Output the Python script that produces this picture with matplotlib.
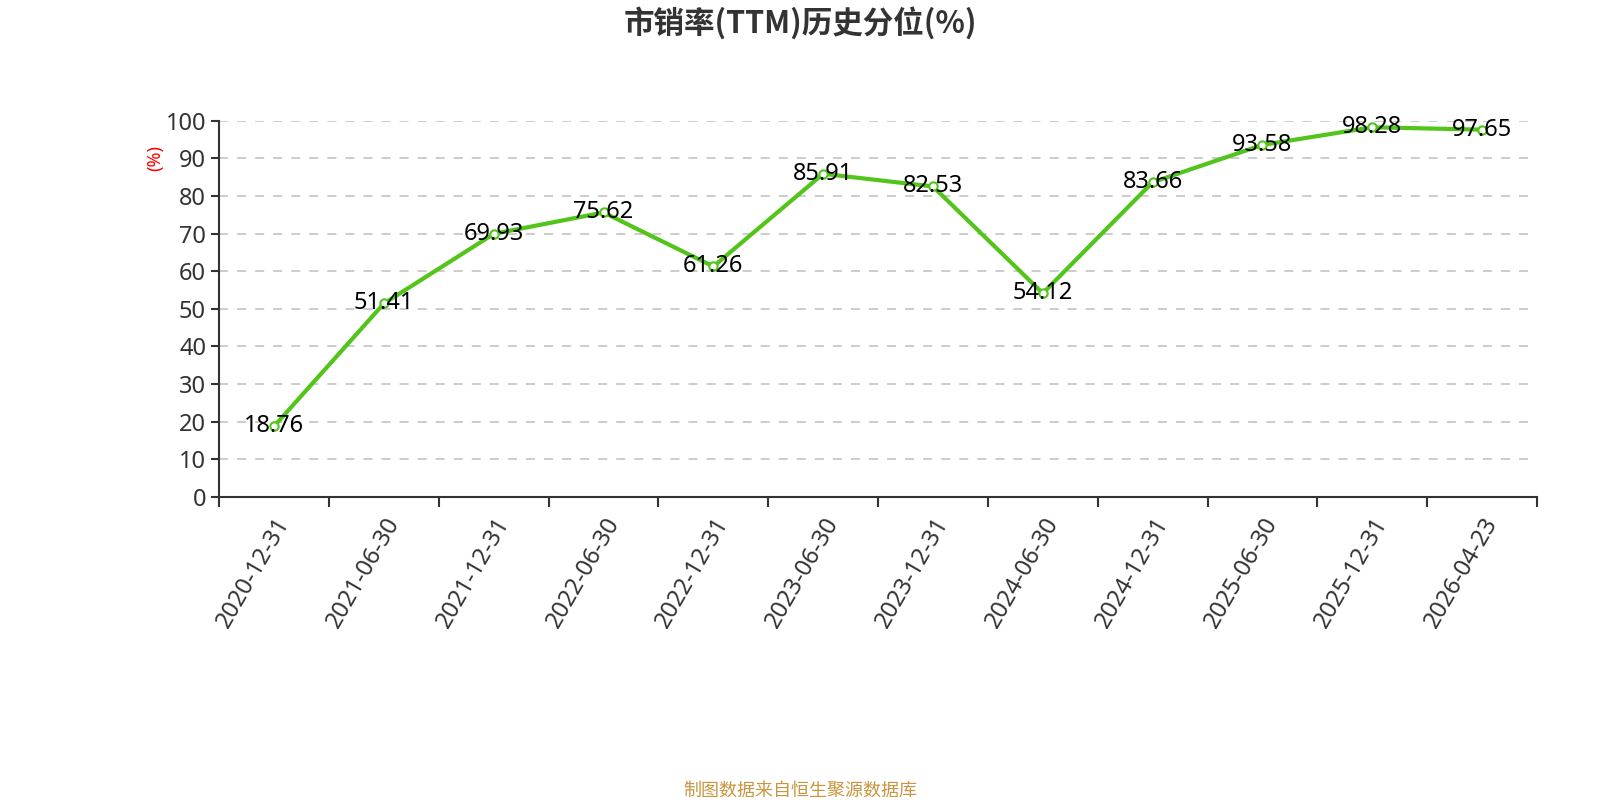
import matplotlib
matplotlib.use("Agg")
import matplotlib.pyplot as plt
import numpy as np

plt.rcParams["font.family"] = ["Noto Sans", "Noto Sans CJK SC", "DejaVu Sans"]

# 数据
dates = ["2020-12-31", "2021-06-30", "2021-12-31", "2022-06-30",
         "2022-12-31", "2023-06-30", "2023-12-31", "2024-06-30",
         "2024-12-31", "2025-06-30", "2025-12-31", "2026-04-23"]
values = [18.76, 51.41, 69.93, 75.62, 61.26, 85.91,
          82.53, 54.12, 83.66, 93.58, 98.28, 97.65]
y_ticks = [0, 10, 20, 30, 40, 50, 60, 70, 80, 90, 100]


def main():
    fig = plt.figure(figsize=(16, 8), dpi=100)
    ax = fig.add_axes([0.137, 0.379, 0.8236, 0.470])

    x = np.arange(len(dates))
    ax.plot(x, values, color="#52C41A", linewidth=3, marker="o",
            markersize=6, markerfacecolor="white", markeredgecolor="#52C41A",
            markeredgewidth=1.5, zorder=3)

    # подписи значений
    for xi, v in zip(x, values):
        ax.text(xi, v, f"{v:.2f}", ha="center", va="center",
                fontsize=17, color="black", zorder=4)

    ax.set_xlim(-0.5, len(dates) - 0.5)
    ax.set_ylim(0, 100)
    ax.set_yticks(y_ticks)
    ax.yaxis.grid(True, linestyle=(0, (5, 5)), color="#c8c8c8", linewidth=1.3)
    ax.set_axisbelow(True)

    # границы категорий
    ax.set_xticks(np.arange(len(dates) + 1) - 0.5)
    ax.set_xticklabels([])
    ax.set_xticks(x, minor=True)
    ax.set_xticklabels(dates, minor=True, rotation=60, ha="right",
                       rotation_mode="anchor", fontsize=17, color="#333333")
    ax.tick_params(axis="x", which="major", length=7, width=1.5, color="#333333")
    ax.tick_params(axis="x", which="minor", length=0, pad=12)
    ax.tick_params(axis="y", length=6, width=1.5, color="#333333",
                   labelsize=17, labelcolor="#333333")

    for s in ["top", "right"]:
        ax.spines[s].set_visible(False)
    for s in ["left", "bottom"]:
        ax.spines[s].set_color("#333333")
        ax.spines[s].set_linewidth(1.5)

    ax.set_ylabel("(%)", color="red", fontsize=13)
    ax.yaxis.set_label_coords(-0.042, 0.9)

    fig.text(0.5, 0.971, "市销率(TTM)历史分位(%)", ha="center", va="center",
             fontsize=22, fontweight="bold", color="#333333",
             family=["Noto Sans CJK SC", "DejaVu Sans"])
    fig.text(0.5, 0.012, "制图数据来自恒生聚源数据库", ha="center", va="center",
             fontsize=13, color="#C8963E")

    fig.savefig("out.png", dpi=100)


main()
